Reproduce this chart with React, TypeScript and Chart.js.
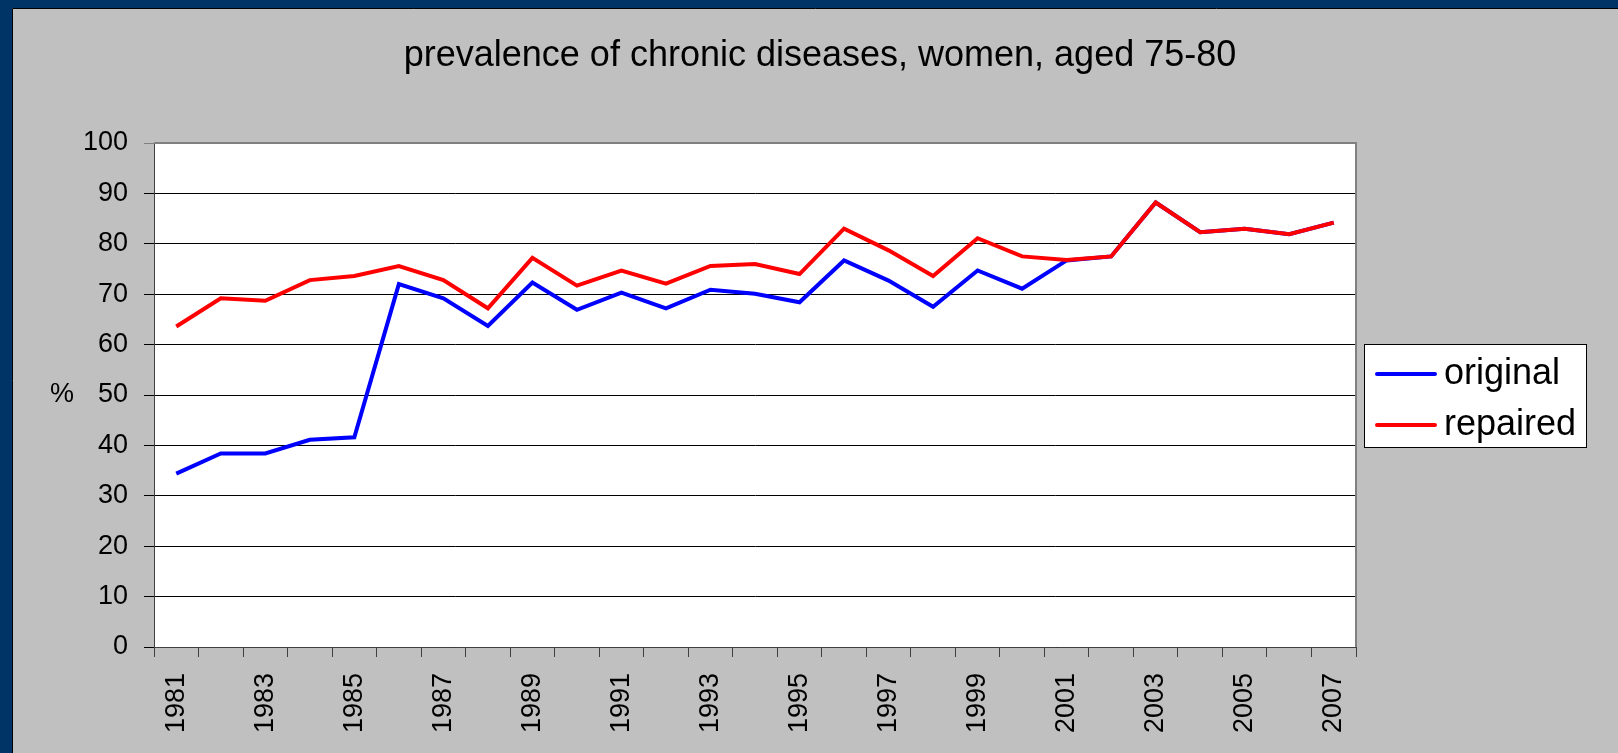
import React, { useEffect, useRef } from 'react';
import { Chart, registerables } from 'chart.js';

Chart.register(...registerables);

const years = [
  '1981', '1982', '1983', '1984', '1985', '1986', '1987', '1988', '1989',
  '1990', '1991', '1992', '1993', '1994', '1995', '1996', '1997', '1998',
  '1999', '2000', '2001', '2002', '2003', '2004', '2005', '2006', '2007',
];

const originalValues = [
  34.4, 38.4, 38.4, 41.1, 41.6, 72.0, 69.2, 63.7, 72.3,
  66.9, 70.3, 67.2, 70.9, 70.1, 68.4, 76.7, 72.7, 67.5,
  74.7, 71.1, 76.7, 77.5, 88.2, 82.3, 83.0, 81.9, 84.2,
];

const repairedValues = [
  63.6, 69.2, 68.7, 72.8, 73.6, 75.6, 72.8, 67.2, 77.2,
  71.7, 74.7, 72.1, 75.6, 76.0, 74.0, 83.0, 78.7, 73.6,
  81.1, 77.5, 76.8, 77.5, 88.2, 82.3, 83.0, 81.9, 84.2,
];

const seriesNames = ['original', 'repaired'];
const seriesColors = ['#0000ff', '#ff0000'];
const titleText = 'prevalence of chronic diseases, women, aged 75-80';
const yAxisLabel = '%';
const yMin = 0;
const yMax = 100;
const yStep = 10;

const FONT = '"Liberation Sans", Arial, sans-serif';
const W = 1618;
const H = 753;

const framePlugin = {
  id: 'framePlugin',
  beforeDraw(chart: any) {
    const ctx = chart.ctx as CanvasRenderingContext2D;
    const a = chart.chartArea;
    ctx.save();
    ctx.fillStyle = '#003366';
    ctx.fillRect(0, 0, W, H);
    ctx.fillStyle = '#c0c0c0';
    ctx.fillRect(12, 8, W - 12, H - 8);
    ctx.strokeStyle = '#000000';
    ctx.lineWidth = 1;
    ctx.beginPath();
    ctx.moveTo(12.5, H);
    ctx.lineTo(12.5, 8.5);
    ctx.lineTo(W, 8.5);
    ctx.stroke();
    ctx.fillStyle = '#ffffff';
    ctx.fillRect(a.left, a.top, a.right - a.left, a.bottom - a.top);
    ctx.restore();
  },
  afterDraw(chart: any) {
    const ctx = chart.ctx as CanvasRenderingContext2D;
    const a = chart.chartArea;
    ctx.save();
    // plot border (top/right)
    ctx.strokeStyle = '#808080';
    ctx.lineWidth = 2;
    ctx.beginPath();
    ctx.moveTo(a.left, a.top);
    ctx.lineTo(a.right, a.top);
    ctx.lineTo(a.right, a.bottom);
    ctx.stroke();

    // title
    ctx.fillStyle = '#000000';
    ctx.font = `36px ${FONT}`;
    ctx.textAlign = 'center';
    ctx.textBaseline = 'alphabetic';
    ctx.fillText(titleText, 820, 66);

    // y-axis label
    ctx.font = `27px ${FONT}`;
    ctx.textAlign = 'center';
    ctx.textBaseline = 'middle';
    ctx.fillText(yAxisLabel, 62, (a.top + a.bottom) / 2);

    // legend
    const lx = 1364;
    const ly = 344;
    const lw = 222;
    const lh = 103;
    ctx.fillStyle = '#ffffff';
    ctx.fillRect(lx, ly, lw, lh);
    ctx.strokeStyle = '#000000';
    ctx.lineWidth = 1;
    ctx.strokeRect(lx + 0.5, ly + 0.5, lw, lh);
    const rowY = [374, 425];
    ctx.font = `36px ${FONT}`;
    ctx.textAlign = 'left';
    ctx.textBaseline = 'alphabetic';
    seriesNames.forEach((name, i) => {
      ctx.strokeStyle = seriesColors[i];
      ctx.lineWidth = 4;
      ctx.lineCap = 'round';
      ctx.beginPath();
      ctx.moveTo(1377, rowY[i]);
      ctx.lineTo(1435, rowY[i]);
      ctx.stroke();
      ctx.fillStyle = '#000000';
      ctx.fillText(name, 1444, rowY[i] + 10);
    });
    ctx.restore();
  },
};

export default function App() {
  const canvasRef = useRef<HTMLCanvasElement | null>(null);

  useEffect(() => {
    document.body.style.margin = '0';
    document.body.style.overflow = 'hidden';
    const canvas = canvasRef.current;
    if (!canvas) return;
    const chart = new Chart(canvas, {
      type: 'line',
      data: {
        labels: years,
        datasets: [
          {
            label: seriesNames[0],
            data: originalValues,
            borderColor: seriesColors[0],
            backgroundColor: seriesColors[0],
            borderWidth: 4,
            pointRadius: 0,
            tension: 0,
            fill: false,
            order: 1,
          },
          {
            label: seriesNames[1],
            data: repairedValues,
            borderColor: seriesColors[1],
            backgroundColor: seriesColors[1],
            borderWidth: 4,
            pointRadius: 0,
            tension: 0,
            fill: false,
            order: 0,
          },
        ],
      },
      options: {
        responsive: false,
        animation: false,
        devicePixelRatio: 1,
        layout: { padding: { top: 143, right: 262, bottom: 0, left: 0 } },
        plugins: {
          legend: { display: false },
          title: { display: false },
          tooltip: { enabled: false },
        },
        scales: {
          x: {
            type: 'category',
            offset: true,
            grid: {
              offset: true,
              drawOnChartArea: false,
              drawTicks: true,
              tickLength: 10,
              color: '#404040',
              lineWidth: 1,
            },
            border: { display: true, color: '#404040', width: 1 },
            ticks: {
              autoSkip: false,
              maxRotation: 90,
              minRotation: 90,
              padding: 16,
              color: '#000000',
              font: { size: 27, family: FONT },
              callback: (_v: any, i: number) => (i % 2 === 0 ? years[i] : ''),
            },
            afterFit: (s: any) => {
              s.height = 106;
            },
          },
          y: {
            min: yMin,
            max: yMax,
            grid: {
              drawTicks: true,
              tickLength: 10,
              lineWidth: 1,
              color: (c: any) => (c.tick && c.tick.value === yMax ? '#808080' : '#000000'),
            },
            border: { display: true, color: '#404040', width: 1 },
            ticks: {
              stepSize: yStep,
              padding: 16,
              color: '#000000',
              font: { size: 27, family: FONT },
            },
            afterFit: (s: any) => {
              s.width = 154;
            },
          },
        },
      },
      plugins: [framePlugin],
    });
    return () => chart.destroy();
  }, []);

  return (
    <canvas
      ref={canvasRef}
      width={W}
      height={H}
      style={{ display: 'block', width: W + 'px', height: H + 'px' }}
    />
  );
}
